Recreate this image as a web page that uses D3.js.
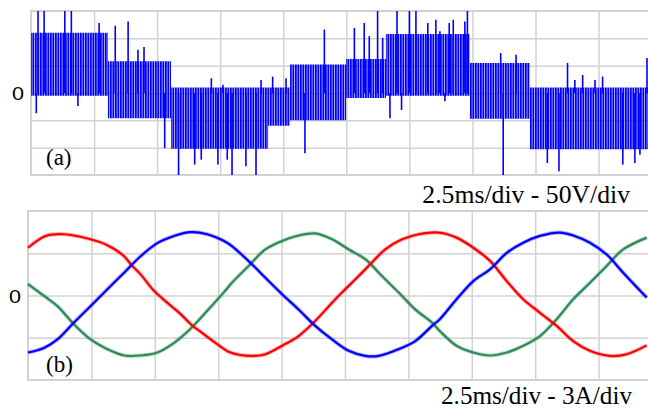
<!DOCTYPE html>
<html><head><meta charset="utf-8">
<script src="https://cdn.jsdelivr.net/npm/d3@7"></script>
<style>html,body{margin:0;padding:0;background:#fff;}svg{display:block}</style>
</head><body>
<script>
// ---------- Panel (a): inverter output voltage (V), time in ms ----------
// Switching band envelope (segment start times, upper/lower levels)
const vTime = [0, 3.05, 5.55, 9.4, 10.27, 12.49, 14.07, 17.40, 19.78, 24.46];
const vHigh = [110, 58, 10, 10, 52, 62, 108, 55, 10, 10];
const vLow  = [-5, -46, -102, -60, -50, -9, -5, -47, -103, -103];
// Pulses that stick out of the band
const spikeTime = [0.28, 0.52, 1.34, 1.60, 2.70, 3.34, 3.85, 0.21, 1.86, 5.30, 5.85, 6.49, 7.41, 7.97, 8.52, 8.92, 10.86, 11.63, 13.74, 14.51, 15.00, 15.26, 14.23, 14.69, 17.30, 16.41, 18.72, 18.62, 19.23, 21.27, 20.47, 23.46, 24.14, 24.42,
  4.24, 4.48, 7.15, 7.61, 9.12, 9.58, 10.11, 12.82, 13.21, 13.41, 13.94, 15.73, 16.05, 16.21, 16.58, 16.74, 17.20, 21.87, 22.36, 22.66, 21.56, 20.93, 23.94, 6.75, 7.78];
const spikeV    = [150, 150, 150, 150, 128, 123, 131, -37, -24, -101, -150, -131, -131, -150, -134, -150, -110, 116, 150, 150, 150, 150, -46, -31, 150, -15, -150, 73, 70, 55, -128, -131, -113, 64,
  79, 84, 27, 15, 24, 30, 27, 119, 128, 104, 101, 128, 134, 113, 128, 134, 131, 33, 24, 30, 24, -143, -128, -122, -122];

// ---------- Panel (b): three-phase currents (A), time in ms ----------
const redT  = [0, 0.70, 1.42, 2.47, 3.13, 3.79, 4.05, 4.44, 4.97, 5.49, 6.02, 6.42, 6.94, 7.46, 7.99, 8.83, 9.36, 10.02, 10.67, 11.33, 11.99, 12.38, 13.04, 13.56, 14.09, 14.75, 15.41, 16.19, 16.90, 17.56, 18.22, 18.88, 19.53, 20.19, 20.85, 21.50, 22.16, 22.95, 23.61, 24.40];
const redA  = [3.39, 4.23, 4.35, 3.99, 3.57, 2.79, 2.22, 1.50, 0.33, -0.51, -1.32, -2.04, -2.76, -3.45, -4.05, -4.29, -4.17, -3.57, -2.88, -1.80, -0.51, 0.21, 1.38, 2.34, 3.27, 3.99, 4.35, 4.47, 4.11, 3.39, 2.46, 1.02, -0.27, -1.23, -2.16, -3.24, -3.93, -4.29, -4.17, -3.54];
const blueT = [0, 0.63, 1.16, 1.81, 2.47, 3.13, 3.79, 4.44, 5.10, 5.76, 6.42, 7.07, 7.73, 8.04, 8.83, 9.36, 10.02, 10.67, 11.33, 11.99, 12.65, 13.30, 13.83, 14.62, 15.27, 15.93, 16.24, 16.90, 17.56, 18.22, 18.88, 19.53, 20.19, 20.98, 21.50, 22.16, 22.82, 23.47, 24.40];
const blueA = [-4.05, -3.72, -3.12, -1.92, -0.75, 0.45, 1.62, 2.79, 3.72, 4.23, 4.50, 4.35, 3.87, 3.51, 2.22, 1.26, 0.09, -0.99, -2.16, -3.12, -3.93, -4.29, -4.29, -3.81, -3.24, -2.16, -1.68, -0.27, 1.02, 1.86, 3.03, 3.75, 4.23, 4.47, 4.26, 3.75, 2.91, 1.62, -0.15];
const greenT = [0, 0.63, 1.16, 1.81, 2.47, 3.13, 3.79, 4.44, 5.10, 5.76, 6.42, 7.07, 7.73, 8.04, 8.70, 9.36, 10.02, 10.67, 11.33, 11.99, 12.65, 13.30, 13.96, 14.62, 15.27, 15.93, 16.24, 16.90, 17.56, 18.22, 18.88, 19.53, 20.19, 20.85, 21.50, 22.16, 22.82, 23.47, 24.40];
const greenA = [0.81, -0.03, -0.75, -2.04, -3.12, -3.81, -4.26, -4.26, -4.05, -3.36, -2.34, -1.08, 0.24, 0.90, 2.10, 3.27, 3.87, 4.26, 4.41, 3.99, 3.27, 2.58, 1.38, 0.21, -0.99, -1.92, -2.52, -3.57, -4.05, -4.26, -4.05, -3.57, -2.88, -1.68, -0.27, 0.90, 2.10, 3.27, 4.11];

// ---------- Labels ----------
const panelLabels = ["(a)", "(b)"];
const scaleLabels = ["2.5ms/div - 50V/div", "2.5ms/div - 3A/div"];
const zeroLabel = "0";

const W = 648, H = 410;
const svg = d3.select("body").append("svg").attr("width", W).attr("height", H);
const gridColor = "#d2d2d2";
const serif = "'Liberation Serif','Times New Roman',serif";
const sans = "'Liberation Sans',Arial,sans-serif";

const defs = svg.append("defs");
const pat = defs.append("pattern").attr("id", "pwm").attr("patternUnits", "userSpaceOnUse")
  .attr("width", 2.5).attr("height", 20);
pat.append("rect").attr("x", 0).attr("y", 0).attr("width", 1.9).attr("height", 20).attr("fill", "#0000ff");

function panel(x, y, xStep, yStep) {
  const g = svg.append("g");
  const [x0, x1] = x.range();
  const [yb, yt] = y.range();
  g.append("g").attr("transform", `translate(0,${yb})`)
    .call(d3.axisBottom(x).tickValues(d3.range(x.domain()[0] + xStep, x.domain()[1], xStep)).tickSize(-(yb - yt)).tickFormat(""))
    .call(a => a.select(".domain").remove())
    .call(a => a.selectAll("line").attr("stroke", gridColor).attr("stroke-width", 1.5));
  g.append("g").attr("transform", `translate(${x0},0)`)
    .call(d3.axisLeft(y).tickValues(d3.range(y.domain()[0] + yStep, y.domain()[1] - yStep / 2, yStep)).tickSize(-(x1 - x0)).tickFormat(""))
    .call(a => a.select(".domain").remove())
    .call(a => a.selectAll("line").attr("stroke", gridColor).attr("stroke-width", 1.5));
  g.append("path").attr("fill", "none").attr("stroke", gridColor).attr("stroke-width", 2)
    .attr("d", `M${x1},${yt}H${x0}V${yb}H${x1}`);
  // zero tick label
  g.append("text").attr("transform", `translate(${x0 - 7},${y(0) + 7}) scale(1.2,1)`)
    .attr("text-anchor", "end").attr("font-family", sans).attr("font-size", 18).attr("fill", "#000")
    .text(zeroLabel);
  return g;
}

// ---------- Panel (a) ----------
const xa = d3.scaleLinear().domain([0, 24.46]).range([31, 648]);
const ya = d3.scaleLinear().domain([-150, 150]).range([175, 11]);
const ga = panel(xa, ya, 2.5, 50);
const clipA = defs.append("clipPath").attr("id", "clipA");
clipA.append("rect").attr("x", 31).attr("y", 10).attr("width", 620).attr("height", 167);
const envData = vTime.map((t, i) => ({ t, hi: vHigh[i], lo: vLow[i] }));
const band = d3.area().x(d => xa(d.t)).y0(d => ya(d.lo)).y1(d => ya(d.hi)).curve(d3.curveStepAfter);
const wa = ga.append("g").attr("clip-path", "url(#clipA)");
wa.append("path").datum(envData).attr("d", band).attr("fill", "url(#pwm)");
wa.selectAll("line.spk").data(spikeTime.map((t, i) => ({ t, v: spikeV[i] }))).join("line")
  .attr("x1", d => xa(d.t)).attr("x2", d => xa(d.t))
  .attr("y1", ya(0)).attr("y2", d => ya(d.v))
  .attr("stroke", "#0000ff").attr("stroke-width", 1.6);

ga.append("text").attr("x", 46).attr("y", 165).attr("font-family", serif).attr("font-size", 23).text(panelLabels[0]);
svg.append("text").attr("x", 630).attr("y", 203).attr("text-anchor", "end").attr("font-family", serif).attr("font-size", 25.7).text(scaleLabels[0]);

// ---------- Panel (b) ----------
const xb = d3.scaleLinear().domain([0, 24.45]).range([28, 648]);
const yb = d3.scaleLinear().domain([-6, 6]).range([380, 211]);
const gb = panel(xb, yb, 2.5, 3);
const line = d3.line().x(d => xb(d.t)).y(d => yb(d.v)).curve(d3.curveCatmullRom);
const series = [
  { T: greenT, A: greenA, c: "#2e8b57" },
  { T: redT, A: redA, c: "#ff0000" },
  { T: blueT, A: blueA, c: "#0000ff" }
];
series.forEach(s => {
  const d = s.T.map((t, i) => ({ t, v: s.A[i] }));
  gb.append("path").datum(d).attr("d", line).attr("fill", "none").attr("stroke", s.c)
    .attr("stroke-opacity", 0.3).attr("stroke-width", 4);
  gb.append("path").datum(d).attr("d", line).attr("fill", "none").attr("stroke", s.c).attr("stroke-width", 2.2);
});
gb.append("text").attr("x", 46).attr("y", 372).attr("font-family", serif).attr("font-size", 23).text(panelLabels[1]);
svg.append("text").attr("x", 632).attr("y", 404).attr("text-anchor", "end").attr("font-family", serif).attr("font-size", 25.2).text(scaleLabels[1]);
</script>
</body></html>
